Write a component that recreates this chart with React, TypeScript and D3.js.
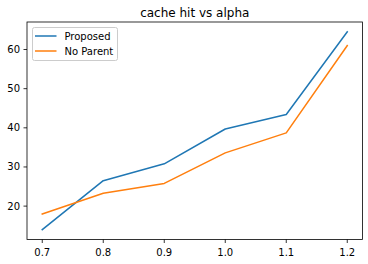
import React from "react";
import * as d3 from "d3";

const alphas = [0.7, 0.8, 0.9, 1.0, 1.1, 1.2];
const proposed = [14.0, 26.5, 30.8, 39.7, 43.4, 64.5];
const noParent = [18.0, 23.3, 25.8, 33.6, 38.7, 61.0];
const xTicks = [0.7, 0.8, 0.9, 1.0, 1.1, 1.2];
const yTicks = [20, 30, 40, 50, 60];
const seriesNames = ["Proposed", "No Parent"];
const colors = ["#1f77b4", "#ff7f0e"];

export default function App() {
  const W = 368, H = 264;
  const left = 27, right = 362.5, top = 22, bottom = 239.5;
  const allVals = [...proposed, ...noParent];
  const ymin = d3.min(allVals)!, ymax = d3.max(allVals)!;
  const ypad = (ymax - ymin) * 0.05;
  const xpad = (1.2 - 0.7) * 0.05;
  const x = d3.scaleLinear().domain([0.7 - xpad, 1.2 + xpad]).range([left, right]);
  const y = d3.scaleLinear().domain([ymin - ypad, ymax + ypad]).range([bottom, top]);
  const line = d3.line<number>().x((_, i) => x(alphas[i])).y((d) => y(d));
  const series = [proposed, noParent];
  const font = "DejaVu Sans, sans-serif";
  return (
    <svg width={W} height={H} style={{ position: "absolute", left: 0, top: 0 }} fontFamily={font}>
      <rect width={W} height={H} fill="#fff" />
      <text x={(left + right) / 2} y={17} textAnchor="middle" fontSize={12} fill="#000">
        cache hit vs alpha
      </text>
      {series.map((s, i) => (
        <path key={i} d={line(s)!} fill="none" stroke={colors[i]} strokeWidth={1.5} strokeLinejoin="round" strokeLinecap="square" />
      ))}
      <rect x={left} y={top} width={right - left} height={bottom - top} fill="none" stroke="#000" strokeWidth={0.8} />
      {xTicks.map((t) => (
        <g key={t}>
          <line x1={x(t)} x2={x(t)} y1={bottom} y2={bottom + 3.5} stroke="#000" strokeWidth={0.8} />
          <text x={x(t)} y={bottom + 16} textAnchor="middle" fontSize={10} fill="#000">
            {t.toFixed(1)}
          </text>
        </g>
      ))}
      {yTicks.map((t) => (
        <g key={t}>
          <line x1={left - 3.5} x2={left} y1={y(t)} y2={y(t)} stroke="#000" strokeWidth={0.8} />
          <text x={left - 7} y={y(t) + 3.5} textAnchor="end" fontSize={10} fill="#000">
            {t}
          </text>
        </g>
      ))}
      <rect x={32.5} y={27.5} width={85} height={33} rx={2} fill="#fff" fillOpacity={0.8} stroke="#ccc" strokeWidth={1} />
      {seriesNames.map((n, i) => (
        <g key={n}>
          <line x1={35} x2={56.5} y1={36 + i * 15} y2={36 + i * 15} stroke={colors[i]} strokeWidth={1.5} />
          <text x={64.5} y={39.5 + i * 15} fontSize={10} fill="#000">
            {n}
          </text>
        </g>
      ))}
    </svg>
  );
}
